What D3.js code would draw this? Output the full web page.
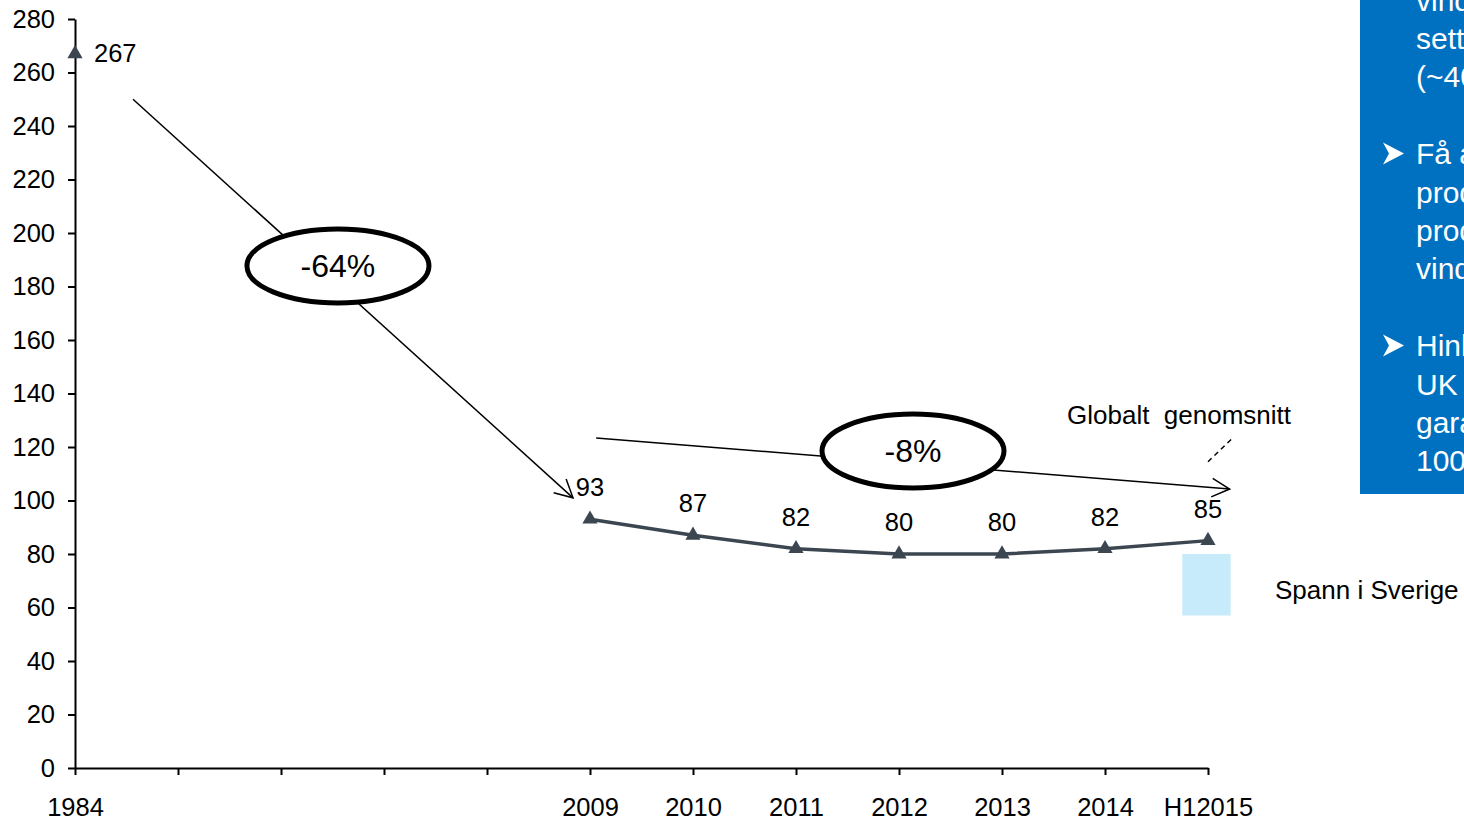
<!DOCTYPE html>
<html>
<head>
<meta charset="utf-8">
<script src="https://cdn.jsdelivr.net/npm/d3@7"></script>
<style>
  html, body { margin: 0; padding: 0; background: #fff; overflow: hidden; }
  svg { display: block; font-family: "Liberation Sans", Arial, sans-serif; }
</style>
</head>
<body>
<svg id="chart" width="1464" height="821"></svg>
<script>
/* Data */
const categories = ['1984', '', '', '', '', '2009', '2010', '2011', '2012', '2013', '2014', 'H12015'];
const values = [267, null, null, null, null, 93, 87, 82, 80, 80, 82, 85];
const yTicks = [0, 20, 40, 60, 80, 100, 120, 140, 160, 180, 200, 220, 240, 260, 280];
const swedenRange = [57, 80];
const changeLabels = ['-64%', '-8%'];
const sideLines = [
  'vindkraft', 'settes', '(~40%)', '',
  'Få aktörer', 'producerar', 'produkter', 'vindkraft', '',
  'Hinkley', 'UK', 'garanterat', '100 EUR'
];

const LINE_COLOR = '#3b4650';
const BOX_COLOR = '#0070c0';
const FONT_SIZE = '25.5px';

const svg = d3.select('#chart');

const x = d3.scaleLinear().domain([0, categories.length - 1]).range([75, 1208]);
const y = d3.scaleLinear().domain([0, 280]).range([768, 19]);

// Axes
const yAxis = svg.append('g')
  .attr('transform', `translate(${x(0)},0)`)
  .call(d3.axisLeft(y).tickValues(yTicks).tickSize(7).tickPadding(13).tickSizeOuter(0));
yAxis.select('.domain').attr('stroke', '#000').attr('stroke-width', 2);
yAxis.selectAll('.tick line').attr('stroke', '#000').attr('stroke-width', 2);
yAxis.selectAll('text').style('font-size', FONT_SIZE).attr('fill', '#000');

const xAxis = svg.append('g')
  .attr('transform', `translate(0,${y(0)})`)
  .call(d3.axisBottom(x)
    .tickValues(d3.range(categories.length))
    .tickFormat((i) => categories[i])
    .tickSize(7).tickPadding(23).tickSizeOuter(0));
xAxis.select('.domain').attr('stroke', '#000').attr('stroke-width', 2);
xAxis.selectAll('.tick line').attr('stroke', '#000').attr('stroke-width', 2);
xAxis.selectAll('text').style('font-size', FONT_SIZE).attr('fill', '#000');

// Series line (gap between 1984 and 2009)
const points = values.map((v, i) => ({ i, v })).filter((d) => d.v !== null);
const line = d3.line()
  .defined((d) => d.v !== null)
  .x((d) => x(d.i))
  .y((d) => y(d.v));
svg.append('path')
  .datum(values.map((v, i) => ({ i, v })))
  .attr('d', line)
  .attr('fill', 'none')
  .attr('stroke', LINE_COLOR)
  .attr('stroke-width', 3.5);

svg.selectAll('path.marker')
  .data(points)
  .join('path')
  .attr('class', 'marker')
  .attr('transform', (d) => `translate(${x(d.i)},${y(d.v)})`)
  .attr('d', d3.symbol(d3.symbolTriangle, 100))
  .attr('fill', LINE_COLOR);

svg.selectAll('text.value')
  .data(points)
  .join('text')
  .attr('class', 'value')
  .attr('x', (d) => (d.i === 0 ? x(d.i) + 19 : x(d.i)))
  .attr('y', (d) => (d.i === 0 ? y(d.v) - 1 : y(d.v) - 32))
  .attr('text-anchor', (d) => (d.i === 0 ? 'start' : 'middle'))
  .attr('dominant-baseline', 'central')
  .style('font-size', FONT_SIZE)
  .attr('fill', '#000')
  .text((d) => d.v);

// Arrow helper: line with open chevron head
function drawArrow (x1, y1, x2, y2) {
  const g = svg.append('g').attr('stroke', '#000').attr('stroke-width', 1.5).attr('fill', 'none');
  g.append('line').attr('x1', x1).attr('y1', y1).attr('x2', x2).attr('y2', y2);
  const ang = Math.atan2(y2 - y1, x2 - x1);
  const len = 20;
  const spread = Math.PI / 6.5;
  g.append('polyline').attr('points', [
    [x2 - len * Math.cos(ang - spread), y2 - len * Math.sin(ang - spread)],
    [x2, y2],
    [x2 - len * Math.cos(ang + spread), y2 - len * Math.sin(ang + spread)]
  ].map((p) => p.join(',')).join(' '));
}

drawArrow(x(0.563), y(250), x(4.835), y(101));
drawArrow(x(5.06), y(123.4), x(11.21), y(104.3));

// Ellipses with percentage change
const ellipses = [
  { cx: 2.553, cy: 187.7, label: changeLabels[0] },
  { cx: 8.136, cy: 118.5, label: changeLabels[1] }
];
ellipses.forEach((e) => {
  svg.append('ellipse')
    .attr('cx', x(e.cx)).attr('cy', y(e.cy))
    .attr('rx', 91).attr('ry', 37)
    .attr('fill', '#fff')
    .attr('stroke', '#000')
    .attr('stroke-width', 5);
  svg.append('text')
    .attr('x', x(e.cx)).attr('y', y(e.cy))
    .attr('text-anchor', 'middle')
    .attr('dominant-baseline', 'central')
    .style('font-size', '32px')
    .attr('fill', '#000')
    .text(e.label);
});

// Global average label with dashed leader
svg.append('line')
  .attr('x1', x(11)).attr('y1', y(114.5))
  .attr('x2', x(11.23)).attr('y2', y(123))
  .attr('stroke', '#000').attr('stroke-width', 1.5)
  .attr('stroke-dasharray', '5,4');
svg.append('text')
  .attr('x', 1067).attr('y', 415)
  .attr('dominant-baseline', 'central')
  .style('font-size', '26px')
  .attr('fill', '#000')
  .attr('xml:space', 'preserve')
  .style('white-space', 'pre')
  .text('Globalt  genomsnitt');

// Sweden range
svg.append('rect')
  .attr('x', x(10.75)).attr('y', y(swedenRange[1]))
  .attr('width', x(11.22) - x(10.75))
  .attr('height', y(swedenRange[0]) - y(swedenRange[1]))
  .attr('fill', '#c8ebfb');
svg.append('text')
  .attr('x', 1275).attr('y', 590)
  .attr('dominant-baseline', 'central')
  .style('font-size', '26px')
  .attr('fill', '#000')
  .text('Spann i Sverige');

// Blue side box (clipped at page edge, as in the source slide)
svg.append('rect')
  .attr('x', 1360).attr('y', 0)
  .attr('width', 120).attr('height', 494)
  .attr('fill', BOX_COLOR);
const lineH = 38.4;
sideLines.forEach((t, k) => {
  if (!t) return;
  svg.append('text')
    .attr('x', 1416).attr('y', k * lineH)
    .attr('dominant-baseline', 'central')
    .style('font-size', '30px')
    .attr('fill', '#fff')
    .text(t);
});
[4, 9].forEach((k) => {
  const cy = k * lineH;
  svg.append('path')
    .attr('d', `M1383,${cy - 11} L1404,${cy} L1383,${cy + 11} L1389,${cy} Z`)
    .attr('fill', '#fff');
});
</script>
</body>
</html>
